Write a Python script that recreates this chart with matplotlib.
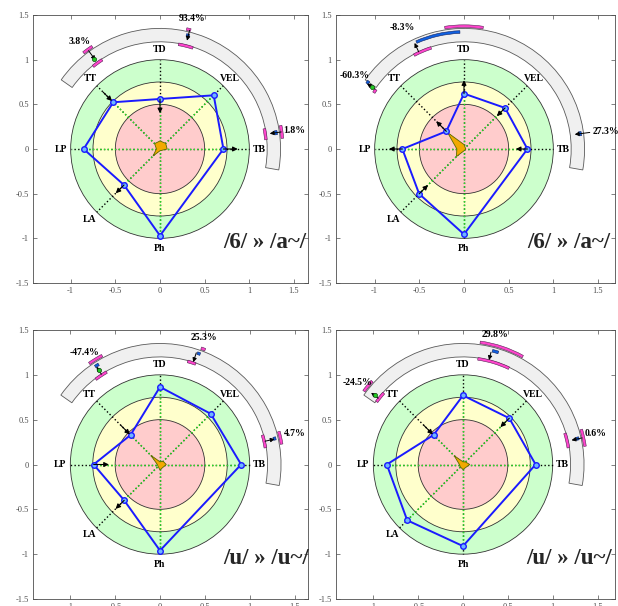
import numpy as np
import matplotlib
matplotlib.use('Agg')
import matplotlib.pyplot as plt
from matplotlib.patches import Circle, Wedge, Polygon

plt.rcParams['font.family'] = ['Liberation Serif', 'DejaVu Serif']

# ---------------- data ----------------
axis_names = ['TD', 'VEL', 'TB', 'Ph', 'LA', 'LP', 'TT']
axis_deg = [90, 45, 0, -90, -135, 180, 135]
titles = ['/6/ » /a~/', '/6/ » /a~/', '/u/ » /u~/', '/u/ » /u~/']

# radar values (order as axis_names)
values_p1 = [0.56, 0.85, 0.71, 0.97, 0.57, 0.855, 0.74]
values_p2 = [0.62, 0.65, 0.71, 0.955, 0.71, 0.69, 0.28]
values_p3 = [0.865, 0.80, 0.905, 0.96, 0.565, 0.74, 0.465]
values_p4 = [0.77, 0.73, 0.81, 0.91, 0.88, 0.85, 0.465]

# small core shape values
core_p1 = [0.09, 0.09, 0.08, 0.02, 0.11, 0.04, 0.085]
core_p2 = [0.05, 0.02, 0.02, 0.02, 0.12, 0.08, 0.26]
core_p3 = [0.03, 0.05, 0.07, 0.06, 0.03, 0.03, 0.145]
core_p4 = [0.03, 0.04, 0.075, 0.056, 0.04, 0.04, 0.14]

# arrows per axis: (from, to) radius, NaN = none
nan = np.nan
arrow_from_p1 = [0.56, nan, 0.71, nan, 0.57, nan, 0.90]
arrow_to_p1 = [0.40, nan, 0.87, nan, 0.70, nan, 0.76]
arrow_from_p2 = [0.62, 0.65, 0.71, nan, 0.71, 0.69, 0.28]
arrow_to_p2 = [0.77, 0.52, 0.58, nan, 0.57, 0.84, 0.44]
arrow_from_p3 = [nan, nan, nan, nan, 0.565, 0.74, 0.62]
arrow_to_p3 = [nan, nan, nan, nan, 0.70, 0.57, 0.475]
arrow_from_p4 = [nan, 0.73, nan, nan, nan, nan, 0.62]
arrow_to_p4 = [nan, 0.59, nan, nan, nan, nan, 0.475]

# ring indicators: label, label angle, label radius,
# inner magenta span, outer magenta span, blue span, blue radius,
# arrow angle, arrow r from, arrow r to, green marker radius
ind_labels_p1 = ['3.8%', '93.4%', '1.8%']
ind_label_ang_p1 = [127, 76, 8]
ind_label_r_p1 = [1.50, 1.50, 1.52]
ind_inner_p1 = [(123, 129), (72, 80), (5, 11)]
ind_outer_p1 = [(123.5, 128.5), (75.5, 77.5), (5, 11)]
ind_blue_p1 = [None, (75.5, 77), (7, 9)]
ind_arrow_p1 = [(126, 1.36, 1.23), (76, 1.37, 1.25), (8, 1.37, 1.24)]
ind_green_p1 = [1.25, nan, nan]

ind_labels_p2 = ['-60.3%', '-8.3%', '27.3%']
ind_label_ang_p2 = [146, 117, 7]
ind_label_r_p2 = [1.47, 1.53, 1.60]
ind_inner_p2 = [(146, 148), (108, 118), None]
ind_outer_p2 = [None, (81, 99), None]
ind_blue_p2 = [(144.5, 146), (92, 114), (6.5, 8.5)]
ind_arrow_p2 = [(146, 1.20, 1.31), (115, 1.20, 1.31), (7.5, 1.42, 1.25)]
ind_green_p2 = [1.24, nan, nan]

ind_labels_p3 = ['-47.4%', '25.3%', '4.7%']
ind_label_ang_p3 = [124, 71, 13]
ind_label_r_p3 = [1.50, 1.50, 1.54]
ind_inner_p3 = [(120, 127), (70.5, 75), (9, 16)]
ind_outer_p3 = [(118, 125), (68.5, 70.5), (9.5, 15.5)]
ind_blue_p3 = [(121.5, 123.5), (70, 71.5), (12, 13.5)]
ind_arrow_p3 = [(123, 1.20, 1.30), (72, 1.31, 1.20), (12.5, 1.20, 1.31)]
ind_green_p3 = [1.25, nan, nan]

ind_labels_p4 = ['-24.5%', '29.8%', '0.6%']
ind_label_ang_p4 = [142, 76, 13]
ind_label_r_p4 = [1.49, 1.49, 1.52]
ind_inner_p4 = [(138, 144), (64.5, 82), (9, 17)]
ind_outer_p4 = [(137.5, 143.5), (61, 82), (8.5, 16.5)]
ind_blue_p4 = [None, (72.5, 75.5), (12, 13.5)]
ind_arrow_p4 = [(142, 1.20, 1.30), (76, 1.29, 1.20), (12.6, 1.36, 1.24)]
ind_green_p4 = [1.25, nan, nan]

panels = [
    (values_p1, core_p1, arrow_from_p1, arrow_to_p1, ind_labels_p1, ind_label_ang_p1, ind_label_r_p1,
     ind_inner_p1, ind_outer_p1, ind_blue_p1, ind_arrow_p1, ind_green_p1),
    (values_p2, core_p2, arrow_from_p2, arrow_to_p2, ind_labels_p2, ind_label_ang_p2, ind_label_r_p2,
     ind_inner_p2, ind_outer_p2, ind_blue_p2, ind_arrow_p2, ind_green_p2),
    (values_p3, core_p3, arrow_from_p3, arrow_to_p3, ind_labels_p3, ind_label_ang_p3, ind_label_r_p3,
     ind_inner_p3, ind_outer_p3, ind_blue_p3, ind_arrow_p3, ind_green_p3),
    (values_p4, core_p4, arrow_from_p4, arrow_to_p4, ind_labels_p4, ind_label_ang_p4, ind_label_r_p4,
     ind_inner_p4, ind_outer_p4, ind_blue_p4, ind_arrow_p4, ind_green_p4),
]

# ---------------- layout ----------------
W, H = 618, 606
fig = plt.figure(figsize=(W / 100, H / 100), dpi=100)
# pixel boxes (left, top, right, bottom) and pixel of x=0
boxes = [(33, 15, 308, 283, 160), (336, 15, 615, 283, 464),
         (33, 330, 308, 599, 160), (336, 330, 615, 599, 463)]

rad = np.deg2rad(axis_deg)
cosv, sinv = np.cos(rad), np.sin(rad)

def pol(r, deg):
    t = np.deg2rad(deg)
    return r * np.cos(t), r * np.sin(t)

for (pdata, box, title) in zip(panels, boxes, titles):
    (vals, core, afrom, ato, labs, lang, lrad, inner, outer, blue, arr, green) = pdata
    l, t, r, b, x0 = box
    ax = fig.add_axes([l / W, 1 - b / H, (r - l) / W, (b - t) / H])
    s = (b - t) / 3.0
    ax.set_xlim((l - x0) / s, (r - x0) / s)
    ax.set_ylim(-1.5, 1.5)

    # ring band
    ax.add_patch(Wedge((0, 0), 1.35, -10, 145, width=0.15, fc='#f0f0f0', ec='#5a5a5a', lw=0.6, zorder=1))
    # circles
    ax.add_patch(Circle((0, 0), 1.0, fc='#ccffcc', ec='#333333', lw=0.6, zorder=1))
    ax.add_patch(Circle((0, 0), 0.75, fc='#ffffcc', ec='#333333', lw=0.6, zorder=1))
    ax.add_patch(Circle((0, 0), 0.5, fc='#ffcccc', ec='#333333', lw=0.6, zorder=1))

    # axis lines
    for c, sn, v in zip(cosv, sinv, vals):
        ax.plot([0, c], [0, sn], color='k', ls=':', lw=1.0, zorder=2)
        ax.plot([0, v * c], [0, v * sn], color='#22ee22', ls=':', lw=1.0, zorder=3)

    # core shape
    core_xy = np.column_stack([np.array(core) * cosv, np.array(core) * sinv])
    ax.add_patch(Polygon(core_xy, closed=True, fc='#f2a900', ec='#5a6a00', lw=0.6, zorder=4))

    # radar polygon
    v = np.array(vals)
    px = np.append(v * cosv, v[0] * cosv[0])
    py = np.append(v * sinv, v[0] * sinv[0])
    ax.plot(px, py, color='#1a1aff', lw=1.4, zorder=5)
    ax.plot(v * cosv, v * sinv, 'o', ms=4, mec='#1a1aff', mfc='#6fb6ff', mew=1.0, zorder=6)

    # arrows
    for c, sn, a0, a1 in zip(cosv, sinv, afrom, ato):
        if np.isnan(a0):
            continue
        ax.annotate('', xy=(a1 * c, a1 * sn), xytext=(a0 * c, a0 * sn),
                    arrowprops=dict(arrowstyle='-|>', color='k', lw=0.8, mutation_scale=7,
                                    shrinkA=0, shrinkB=0), zorder=7)

    # axis labels
    for name, c, sn in zip(axis_names, cosv, sinv):
        ax.text(1.11 * c, 1.11 * sn, name, ha='center', va='center', fontsize=7,
                fontweight='bold', zorder=8)

    # indicators
    for i in range(3):
        if inner[i] is not None:
            ax.add_patch(Wedge((0, 0), 1.205, inner[i][0], inner[i][1], width=0.03,
                               fc='#ff44cc', ec='#552255', lw=0.4, zorder=6))
        if outer[i] is not None:
            ax.add_patch(Wedge((0, 0), 1.39, outer[i][0], outer[i][1], width=0.03,
                               fc='#ff44cc', ec='#552255', lw=0.4, zorder=6))
        if blue[i] is not None:
            ax.add_patch(Wedge((0, 0), 1.325, blue[i][0], blue[i][1], width=0.03,
                               fc='#1060e0', ec='#102060', lw=0.4, zorder=6))
        ang, ra, rb = arr[i]
        ax.annotate('', xy=pol(rb, ang), xytext=pol(ra, ang),
                    arrowprops=dict(arrowstyle='-|>', color='k', lw=0.7, mutation_scale=6,
                                    shrinkA=0, shrinkB=0), zorder=7)
        if not np.isnan(green[i]):
            gx, gy = pol(green[i], ang)
            ax.plot(gx, gy, marker='o', ms=3, mfc='#22cc22', mec='#114411', mew=0.5, zorder=8)
        lx, ly = pol(lrad[i], lang[i])
        ax.text(lx, ly, labs[i], ha='center', va='center', fontsize=7, fontweight='bold', zorder=8)

    ax.text(0.71, -1.05, title, ha='left', va='center', fontsize=16.5, fontweight='bold',
            color='#262626', zorder=9)

    ax.set_xticks([-1, -0.5, 0, 0.5, 1, 1.5])
    ax.set_xticklabels(['-1', '-0.5', '0', '0.5', '1', '1.5'])
    ax.set_yticks([-1.5, -1, -0.5, 0, 0.5, 1, 1.5])
    ax.set_yticklabels(['-1.5', '-1', '-0.5', '0', '0.5', '1', '1.5'])
    ax.tick_params(direction='in', top=True, right=True, length=3, width=0.5,
                   colors='#4d4d4d', labelsize=6, pad=3)
    for sp in ax.spines.values():
        sp.set_color('#4d4d4d')
        sp.set_linewidth(0.6)

fig.savefig('out.png', dpi=100)
